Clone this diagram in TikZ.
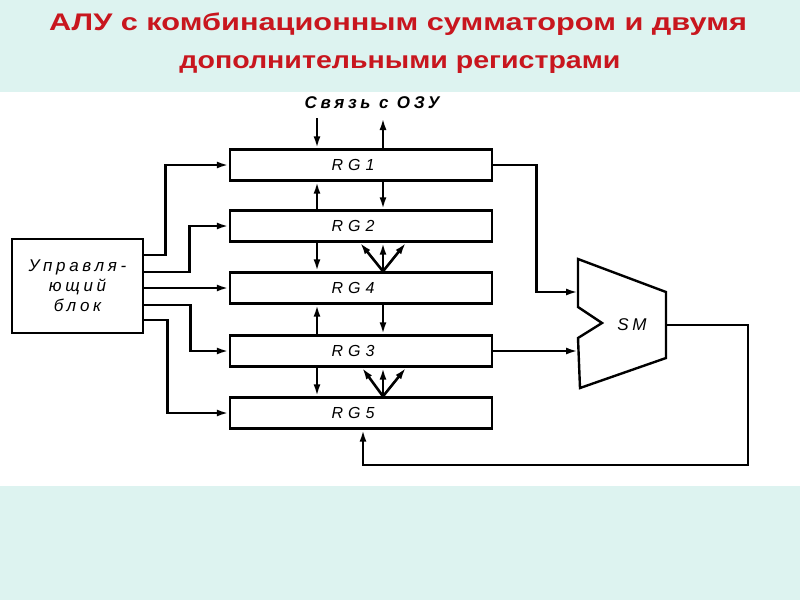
\documentclass[tikz,border=0pt]{standalone}
\usepackage{fontspec}
\setmainfont{Liberation Sans}
\newfontfamily\drawfont[LetterSpace=22]{Liberation Sans}
\usetikzlibrary{positioning,arrows.meta,calc}
\definecolor{band}{HTML}{DDF3F0}
\definecolor{headred}{HTML}{C8161E}

\begin{document}
\begin{tikzpicture}[x=1pt,y=-1pt,
  reg/.style={draw,line width=2.4pt,minimum width=262pt,minimum height=31pt,inner sep=0pt,
    font=\drawfont\itshape\fontsize{16}{16}\selectfont},
  wire/.style={line width=2.6pt},
  arr/.style={wire,-{Latex[length=12pt,width=7pt]}}]
  \useasboundingbox (0,0) rectangle (800,600);
  \fill[band] (0,0) rectangle (800,92);
  \fill[band] (0,486) rectangle (800,600);
  % title
  \node[font=\bfseries\fontsize{24}{24}\selectfont,text=headred,anchor=base] (head1) at (398,30)
    {\scalebox{1.28}[1]{АЛУ с комбинационным сумматором и двумя}};
  \node[font=\bfseries\fontsize{24}{24}\selectfont,text=headred,anchor=base] (head2) at (400,68)
    {\scalebox{1.19}[1]{дополнительными регистрами}};
  % registers
  \foreach \n/\y in {1/165,2/226,4/288,3/351,5/413}{
    \node[reg] (rg\n) at (361,\y) {\hspace*{-16pt}R\kern5pt G\kern5pt\n};
  }
  \node[draw,line width=2.4pt,minimum width=131pt,minimum height=94pt,inner sep=0pt,align=center,
    font=\drawfont\itshape\fontsize{17}{20}\selectfont] (ctrl) at (77.5,286) {Управля-\\ющий\\блок};
  \node[font=\drawfont\itshape\bfseries\fontsize{17}{17}\selectfont] (link) at (372,103) {Связь с ОЗУ};
  % adder
  \draw[line width=2.4pt] (578,259) -- (666,292) -- (666,358) -- (580,388) -- (578,338)
    -- (602,323) -- (578,307) -- cycle;
  \node[font=\drawfont\itshape\fontsize{17}{17}\selectfont] (sm) at (632,325) {SM};
  \coordinate (sm-in1) at (578,292);
  \coordinate (sm-in2) at (578,352);
  \coordinate (sm-out) at (666,325);
  \coordinate (loop) at (748,465);
  \coordinate (la) at (317,0);
  \coordinate (lb) at (383,0);
  \coordinate (ozu) at (350,118);
  % control lines
  \draw[arr] ([yshift=31pt]ctrl.east) -- ++(21,0) |- (rg1.west);
  \draw[arr] ([yshift=14pt]ctrl.east) -- ++(45,0) |- (rg2.west);
  \draw[arr] (ctrl.east |- rg4.west) -- (rg4.west);
  \draw[arr] ([yshift=-19pt]ctrl.east) -- ++(46,0) |- (rg3.west);
  \draw[arr] ([yshift=-34pt]ctrl.east) -- ++(23,0) |- (rg5.west);
  % transfers between registers
  \draw[arr] (la |- ozu) -- (la |- rg1.north);
  \draw[arr] (lb |- rg1.north) -- (lb |- ozu);
  \draw[arr] (la |- rg2.north) -- (la |- rg1.south);
  \draw[arr] (lb |- rg1.south) -- (lb |- rg2.north);
  \draw[arr] (la |- rg2.south) -- (la |- rg4.north);
  \foreach \dx in {-23,0,23}{ \draw[arr] (lb |- rg4.north) -- ($(lb |- rg2.south)+(\dx,0)$); }
  \draw[arr] (la |- rg3.north) -- (la |- rg4.south);
  \draw[arr] (lb |- rg4.south) -- (lb |- rg3.north);
  \draw[arr] (la |- rg3.south) -- (la |- rg5.north);
  \foreach \dx in {-21,0,23}{ \draw[arr] (lb |- rg5.north) -- ($(lb |- rg3.south)+(\dx,0)$); }
  % adder in and out
  \draw[arr] (rg1.east) -- ++(43,0) |- (sm-in1);
  \draw[arr] (rg3.east) -- (rg3.east -| sm-in2);
  \draw[arr] (sm-out) -| (loop) -| ([xshift=2pt]rg5.south);
\end{tikzpicture}
\end{document}
